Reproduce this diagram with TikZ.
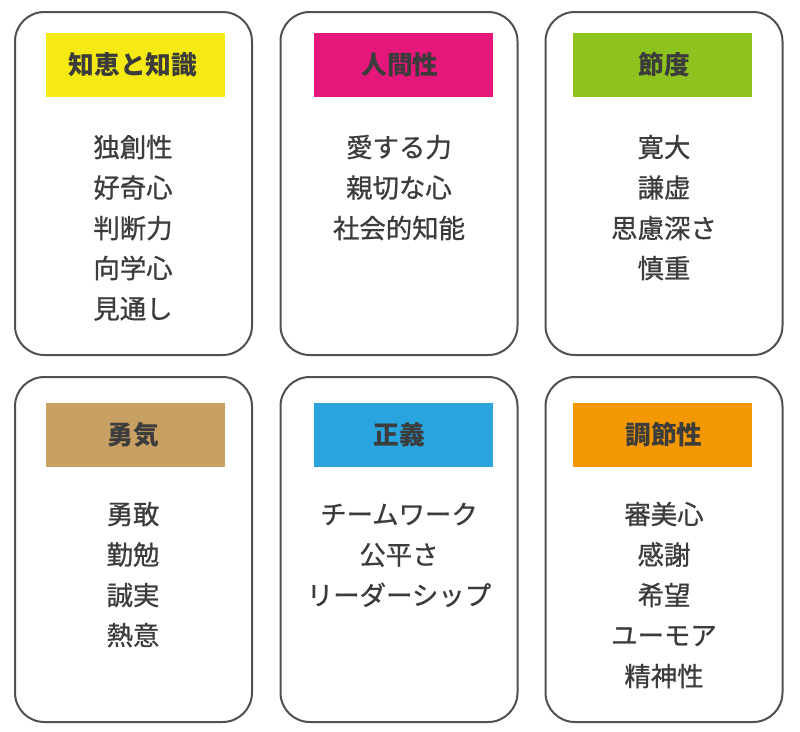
\documentclass[tikz,border=0pt]{standalone}
\usepackage{fontspec}
\setmainfont{Noto Sans CJK JP}
\newfontfamily\itemfont{Noto Sans CJK JP}[FakeBold=0.8]
\definecolor{cardline}{HTML}{505050}
\definecolor{txt}{HTML}{3C3C3C}
\definecolor{cyellow}{HTML}{F5EA14}
\definecolor{cmagenta}{HTML}{E5177A}
\definecolor{cgreen}{HTML}{8DC21F}
\definecolor{ctan}{HTML}{C9A063}
\definecolor{cblue}{HTML}{29A4DE}
\definecolor{corange}{HTML}{F39800}
\tikzset{
  card/.style={draw=cardline, line width=1.5pt, rounded corners=22pt, fill=white,
    minimum width=177.75pt, inner sep=0},
  bar/.style={inner sep=0, minimum width=134.25pt, minimum height=47.5pt},
  head/.style={inner sep=0, text=txt, font=\fontsize{19.3}{19.3}\selectfont\bfseries,
    text height=.88em, text depth=.12em, yshift=-3pt},
  item/.style={inner sep=0, text=txt, font=\fontsize{19.8}{19.8}\selectfont\itemfont,
    text height=.88em, text depth=.12em, yshift=-3pt}
}
\begin{document}
\begin{tikzpicture}[x=0.75pt,y=-0.75pt]
\useasboundingbox (0,0) rectangle (800,732);
% row 1 cards
\node[card, minimum height=257.25pt] (c1) at (133.5,183.5) {};
\node[card, minimum height=257.25pt] (c2) at (399,183.5) {};
\node[card, minimum height=257.25pt] (c3) at (664,183.5) {};
% row 2 cards
\node[card, minimum height=258.75pt] (c4) at (133.5,549.5) {};
\node[card, minimum height=258.75pt] (c5) at (399,549.5) {};
\node[card, minimum height=258.75pt] (c6) at (664,549.5) {};
% header bars
\node[bar, fill=cyellow] (b1) at (135.5,65) {};
\node[bar, fill=cmagenta] (b2) at (403,65) {};
\node[bar, fill=cgreen] (b3) at (662.5,65) {};
\node[bar, fill=ctan] (b4) at (135.5,435) {};
\node[bar, fill=cblue] (b5) at (403,435) {};
\node[bar, fill=corange] (b6) at (662.5,435) {};
% header texts
\node[head] (h1) at (133,65) {知恵と知識};
\node[head] (h2) at (400,65) {人間性};
\node[head] (h3) at (664,65) {節度};
\node[head] (h4) at (133,435) {勇気};
\node[head] (h5) at (399,435) {正義};
\node[head] (h6) at (664,435) {調節性};
% card 1 items
\node[item] (i11) at (133,148) {独創性};
\node[item] (i12) at (133,188.5) {好奇心};
\node[item] (i13) at (133,229) {判断力};
\node[item] (i14) at (133,269) {向学心};
\node[item] (i15) at (133,309.5) {見通し};
% card 2 items
\node[item] (i21) at (399,148) {愛する力};
\node[item] (i22) at (399,188.5) {親切な心};
\node[item] (i23) at (399,229) {社会的知能};
% card 3 items
\node[item] (i31) at (664,148) {寛大};
\node[item] (i32) at (664,188.5) {謙虚};
\node[item] (i33) at (664,229) {思慮深さ};
\node[item] (i34) at (664,269) {慎重};
% card 4 items
\node[item] (i41) at (133,515) {勇敢};
\node[item] (i42) at (133,555.5) {勤勉};
\node[item] (i43) at (133,596) {誠実};
\node[item] (i44) at (133,636) {熱意};
% card 5 items
\node[item] (i51) at (399,515) {チームワーク};
\node[item] (i52) at (399,555.5) {公平さ};
\node[item] (i53) at (399,596) {リーダーシップ};
% card 6 items
\node[item] (i61) at (664,515) {審美心};
\node[item] (i62) at (664,555.5) {感謝};
\node[item] (i63) at (664,596) {希望};
\node[item] (i64) at (664,636) {ユーモア};
\node[item] (i65) at (664,677) {精神性};
\end{tikzpicture}
\end{document}
